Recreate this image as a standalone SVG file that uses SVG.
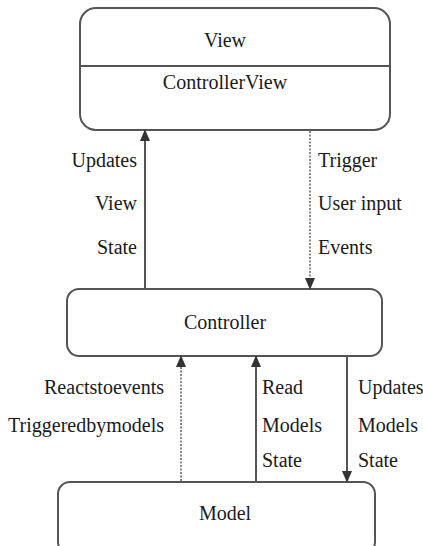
<svg xmlns="http://www.w3.org/2000/svg" width="423" height="546" viewBox="0 0 423 546">
<style>
.box{fill:#fff;stroke:#555;stroke-width:2}
.ln{stroke:#555;stroke-width:2;fill:none}
.dot{stroke:#888;stroke-width:2;stroke-dasharray:2 1.5;fill:none}
text{font-family:"Liberation Serif","Times New Roman",serif;font-size:20px;fill:#1a1a1a}
.c{text-anchor:middle}
.r{text-anchor:end}
</style>
<defs>
<marker id="ah" markerWidth="12" markerHeight="14" refX="12" refY="6" orient="auto" markerUnits="userSpaceOnUse" viewBox="0 0 14 12">
<path d="M0,0 L14,6 L0,12 z" fill="#333"/>
</marker>
</defs>
<rect width="423" height="546" fill="#fff"/>
<g id="view">
<rect class="box" x="80" y="8" width="310" height="122" rx="16"/>
<line class="ln" x1="80" y1="66" x2="390" y2="66"/>
<text class="c" x="225" y="47">View</text>
<text class="c" x="225" y="89">ControllerView</text>
</g>
<g id="controller">
<rect class="box" x="67" y="289" width="315" height="67" rx="12"/>
<text class="c" x="225" y="329">Controller</text>
</g>
<g id="model">
<rect class="box" x="58" y="482" width="317" height="72" rx="12"/>
<text class="c" x="225" y="520">Model</text>
</g>
<g id="connectors">
<line class="ln" x1="145" y1="289" x2="145" y2="131" marker-end="url(#ah)"/>
<line class="dot" x1="310" y1="131" x2="310" y2="288" marker-end="url(#ah)"/>
<line class="dot" x1="181" y1="481" x2="181" y2="357" marker-end="url(#ah)"/>
<line class="ln" x1="256" y1="481" x2="256" y2="357" marker-end="url(#ah)"/>
<line class="ln" x1="347" y1="356" x2="347" y2="481" marker-end="url(#ah)"/>
</g>
<g id="labels">
<text class="r" x="137" y="167">Updates</text>
<text class="r" x="137" y="210">View</text>
<text class="r" x="137" y="254">State</text>
<text x="318" y="167">Trigger</text>
<text x="318" y="210">User input</text>
<text x="318" y="254">Events</text>
<text class="r" x="164" y="394">Reactstoevents</text>
<text class="r" x="164" y="432">Triggeredbymodels</text>
<text x="262" y="394">Read</text>
<text x="262" y="432">Models</text>
<text x="262" y="467">State</text>
<text x="358" y="394">Updates</text>
<text x="358" y="432">Models</text>
<text x="358" y="467">State</text>
</g>
</svg>
